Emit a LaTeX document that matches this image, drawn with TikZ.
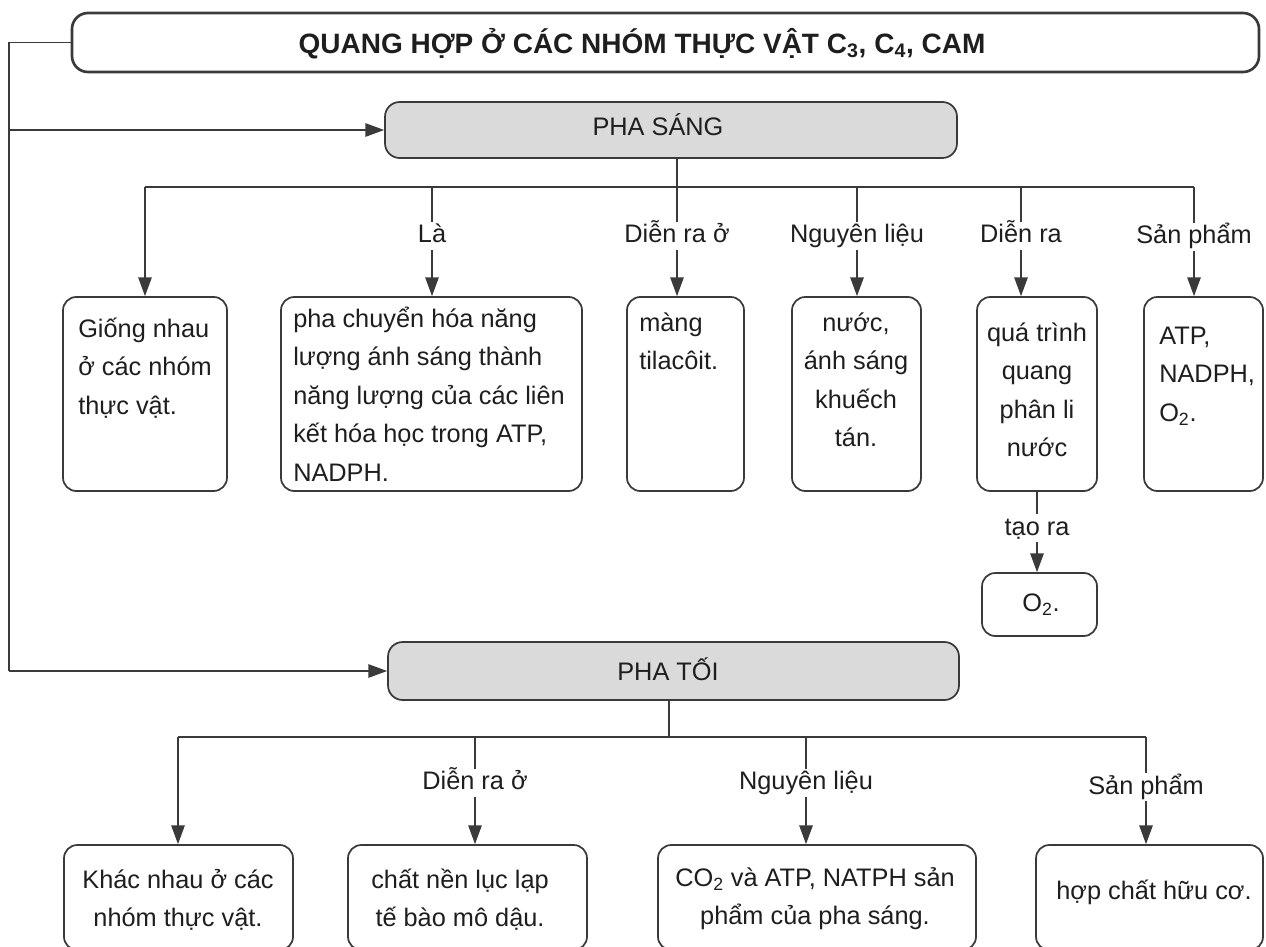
\documentclass[tikz,border=0pt]{standalone}
\usepackage{fontspec}
\setmainfont{Liberation Sans}
\usetikzlibrary{arrows.meta,fit}
\definecolor{ln}{HTML}{3A3A3A}
\definecolor{phase}{HTML}{DADADA}
\definecolor{ink}{HTML}{1E1E1E}
\newcommand\fsz{\fontsize{19}{28.9}\selectfont}
\begin{document}
\begin{tikzpicture}[x=0.75pt,y=-0.75pt,
  box/.style={draw=ln, line width=1.3pt, rounded corners=10pt, inner sep=0pt},
  phasebox/.style={box, fill=phase, rounded corners=11pt},
  titlebox/.style={box, line width=2pt, rounded corners=12pt},
  txt/.style={font=\fsz, text=ink, inner sep=0pt},
  lbl/.style={font=\fsz, text=ink, fill=white, inner sep=1.5pt, text height=14pt, text depth=4pt},
  conn/.style={draw=ln, line width=1.1pt},
  arr/.style={conn, -{Triangle[length=14pt,width=10pt]}},
]
\useasboundingbox (0,0) rectangle (1266,946);
\fill[white] (0,0) rectangle (1266,946);

% title
\node[titlebox, fit={(72,13) (1259,72)}] (title) {};
\node[txt, anchor=base, font=\fontsize{21}{25}\selectfont\bfseries] (titletext) at (642,53)
  {QUANG HỢP Ở CÁC NHÓM THỰC VẬT C\textsubscript{3}, C\textsubscript{4}, CAM};

% phases
\node[phasebox, fit={(385,102) (957,158)}] (sang) {};
\node[txt, anchor=base] (sangtext) at (658,135) {PHA SÁNG};
\node[phasebox, fit={(388,642) (959,700)}] (toi) {};
\node[txt, anchor=base] (toitext) at (668,680) {PHA TỐI};

% left connector
\coordinate (Ltop) at (9,42.5);
\coordinate (Lmid) at (9,130);
\coordinate (Lbot) at (9,671);
\draw[conn] (title.west) -- (Ltop) -- (Lbot);
\draw[arr] (Lmid) -- (sang.west);
\draw[arr] (Lbot) -- (toi.west);

% row 1 boxes
\node[box, fit={(63,297) (227,491)}] (g1) {};
\node[box, fit={(281,297) (582,491)}] (g2) {};
\node[box, fit={(627,297) (744,491)}] (g3) {};
\node[box, fit={(792,297) (921,491)}] (g4) {};
\node[box, fit={(977,297) (1097,491)}] (g5) {};
\node[box, fit={(1144,297) (1263,491)}] (g6) {};
\node[box, fit={(982,573) (1097,636)}] (o2) {};

\node[txt, anchor=north west, align=left] (g1t) at (78,310)
  {\strut Giống nhau\\ở các nhóm\\thực vật.};
\node[txt, anchor=north west, align=left] (g2t) at (293,300)
  {\strut pha chuyển hóa năng\\lượng ánh sáng thành\\năng lượng của các liên\\kết hóa học trong ATP,\\NADPH.};
\node[txt, anchor=north west, align=left] (g3t) at (639,304)
  {\strut màng\\tilacôit.};
\node[txt, anchor=north, align=center] (g4t) at (856,304)
  {\strut nước,\\ánh sáng\\khuếch\\tán.};
\node[txt, anchor=north, align=center] (g5t) at (1037,314)
  {\strut quá trình\\quang\\phân li\\nước};
\node[txt, anchor=north west, align=left] (g6t) at (1159,317)
  {\strut ATP,\\NADPH,\\O\textsubscript{2}.};
\node[txt, anchor=base] (o2t) at (1041,611) {O\textsubscript{2}.};

% top tree
\coordinate (s0) at (677,187);
\coordinate (b1) at (145,187);
\coordinate (b2) at (432,187);
\coordinate (b3) at (677,187);
\coordinate (b4) at (857,187);
\coordinate (b5) at (1021,187);
\coordinate (b6) at (1194,187);
\draw[conn] (s0 |- sang.south) -- (s0);
\draw[conn] (b1) -- (b6);
\draw[arr] (b1) -- (b1 |- g1.north);
\draw[arr] (b2) -- node[lbl, pos=0.45] (l2) {Là} (b2 |- g2.north);
\draw[arr] (b3) -- node[lbl, pos=0.45] (l3) {Diễn ra ở} (b3 |- g3.north);
\draw[arr] (b4) -- node[lbl, pos=0.45] (l4) {Nguyên liệu} (b4 |- g4.north);
\draw[arr] (b5) -- node[lbl, pos=0.45] (l5) {Diễn ra} (b5 |- g5.north);
\draw[arr] (b6) -- node[lbl, pos=0.46] (l6) {Sản phẩm} (b6 |- g6.north);
\draw[arr] (g5.south) -- node[lbl, pos=0.455] (l7) {tạo ra} (g5.south |- o2.north);

% row 2 boxes
\node[box, fit={(64,845) (293,950)}] (h1) {};
\node[box, fit={(348,845) (587,950)}] (h2) {};
\node[box, fit={(658,845) (976,950)}] (h3) {};
\node[box, fit={(1036,845) (1263,950)}] (h4) {};

\node[txt, anchor=north, align=center] (h1t) at (178,861)
  {\strut Khác nhau ở các\\nhóm thực vật.};
\node[txt, anchor=north, align=center] (h2t) at (460,861)
  {\strut chất nền lục lạp\\tế bào mô dậu.};
\node[txt, anchor=north, align=center] (h3t) at (815,859)
  {\strut CO\textsubscript{2} và ATP, NATPH sản\\phẩm của pha sáng.};
\node[txt, anchor=base] (h4t) at (1154,899) {hợp chất hữu cơ.};

% bottom tree
\coordinate (t0) at (669,737);
\coordinate (c1) at (178,737);
\coordinate (c2) at (475,737);
\coordinate (c3) at (806,737);
\coordinate (c4) at (1146,737);
\draw[conn] (t0 |- toi.south) -- (t0);
\draw[conn] (c1) -- (c4);
\draw[arr] (c1) -- (c1 |- h1.north);
\draw[arr] (c2) -- node[lbl, pos=0.43] (m2) {Diễn ra ở} (c2 |- h2.north);
\draw[arr] (c3) -- node[lbl, pos=0.43] (m3) {Nguyên liệu} (c3 |- h3.north);
\draw[arr] (c4) -- node[lbl, pos=0.47] (m4) {Sản phẩm} (c4 |- h4.north);
\end{tikzpicture}
\end{document}
